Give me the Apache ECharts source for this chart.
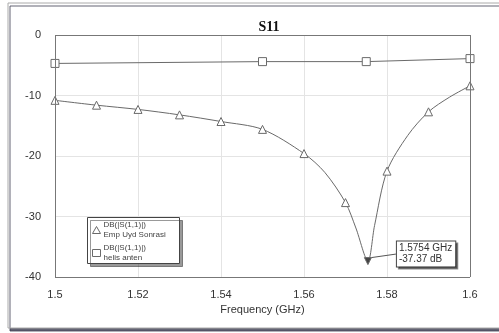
<!DOCTYPE html>
<html>
<head>
<meta charset="utf-8">
<script src="https://cdn.jsdelivr.net/npm/echarts@6/dist/echarts.min.js"></script>
<style>
  html, body { margin: 0; padding: 0; background: #fff; }
  #chart { width: 499px; height: 333px; }
</style>
</head>
<body>
<div id="chart"></div>
<script>
// Emp Uyd Sonrasi (triangles) - freq GHz, dB; marked = drawn with a symbol
const empFreq = [1.5, 1.51, 1.52, 1.53, 1.54, 1.55, 1.56, 1.565, 1.57, 1.5725, 1.5754, 1.577, 1.58, 1.585, 1.59, 1.595, 1.6]
const empDb = [-10.8, -11.6, -12.3, -13.2, -14.3, -15.6, -19.6, -22.7, -27.7, -31.9, -37.37, -31.5, -22.5, -16.6, -12.7, -10.3, -8.4]
const empMarked = [1, 1, 1, 1, 1, 1, 1, 0, 1, 0, 1, 0, 1, 0, 1, 0, 1]
// helis anten (squares)
const helisFreq = [1.5, 1.55, 1.575, 1.6]
const helisDb = [-4.7, -4.4, -4.4, -3.9]
const xTicks = ['1.5', '1.52', '1.54', '1.56', '1.58', '1.6']
const yTicks = [0, -10, -20, -30, -40]

const minIdx = empDb.indexOf(Math.min(...empDb))
const lineColor = '#6a6a6a'

const empData = empFreq.map((f, i) => {
  const item = { value: [f, empDb[i]] }
  if (!empMarked[i]) item.symbol = 'none'
  if (i === minIdx) {
    item.symbolRotate = 180
    item.symbolSize = 7
    item.itemStyle = { color: '#444' }
    item.label = {
      show: true,
      position: 'right',
      formatter: '1.5754 GHz\n-37.37 dB',
      fontSize: 10,
      lineHeight: 11,
      color: '#333',
      fontFamily: 'Liberation Sans',
      backgroundColor: '#fff',
      borderColor: '#444',
      borderWidth: 1,
      padding: [2, 3, 1, 2],
      shadowColor: 'rgba(0,0,0,0.45)',
      shadowOffsetX: 2,
      shadowOffsetY: 2
    }
    item.labelLine = { show: true, lineStyle: { color: '#555', width: 1 } }
  }
  return item
})
const helisData = helisFreq.map((f, i) => [f, helisDb[i]])

const myChart = echarts.init(document.getElementById('chart'), null, { renderer: 'canvas' })
myChart.setOption({
  animation: false,
  backgroundColor: '#fff',
  graphic: [
    {
      // outer frame of the plot window
      type: 'rect',
      z: -10,
      shape: { x: 8, y: 3, width: 520, height: 325 },
      style: {
        fill: '#fff',
        stroke: '#aaa',
        lineWidth: 1,
        shadowColor: 'rgba(60,60,80,0.8)',
        shadowOffsetX: 2,
        shadowOffsetY: 3
      }
    },
    {
      // legend box
      type: 'rect',
      z: 5,
      shape: { x: 87.5, y: 217.5, width: 92, height: 46 },
      style: {
        fill: '#fff',
        stroke: '#444',
        lineWidth: 1,
        shadowColor: 'rgba(0,0,0,0.4)',
        shadowOffsetX: 3,
        shadowOffsetY: 3
      }
    }
  ],
  title: {
    text: 'S11',
    left: 264,
    textAlign: 'center',
    top: 15,
    textStyle: { fontFamily: 'Liberation Serif', fontSize: 14, fontWeight: 'bold', color: '#111' }
  },
  grid: { left: 55, right: 29, top: 35, bottom: 56 },
  legend: {
    left: 92,
    top: 220,
    z: 6,
    orient: 'vertical',
    itemWidth: 8,
    itemHeight: 7,
    itemGap: 3,
    padding: 0,
    textStyle: { fontSize: 8, lineHeight: 10, color: '#444', fontFamily: 'Liberation Sans', padding: [0, 0, 0, -2] },
    formatter: (name) => 'DB(|S(1,1)|)\n' + name,
    data: [
      { name: 'Emp Uyd Sonrasi', icon: 'triangle', itemStyle: { color: '#fff', borderColor: lineColor, borderWidth: 1 } },
      { name: 'helis anten', icon: 'rect', itemStyle: { color: '#fff', borderColor: lineColor, borderWidth: 1 } }
    ]
  },
  xAxis: {
    type: 'value',
    min: 1.5,
    max: 1.6,
    interval: 0.02,
    name: 'Frequency (GHz)',
    nameLocation: 'middle',
    nameGap: 27,
    nameTextStyle: { fontSize: 11, color: '#333', fontFamily: 'Liberation Sans' },
    axisLine: { show: false },
    axisTick: { show: false },
    axisLabel: {
      margin: 12,
      fontSize: 11,
      color: '#333',
      fontFamily: 'Liberation Sans',
      formatter: (v) => xTicks.find(t => Math.abs(parseFloat(t) - v) < 1e-6) || ''
    },
    splitLine: { lineStyle: { color: '#e4e4e4', width: 1 } }
  },
  yAxis: {
    type: 'value',
    min: -40,
    max: 0,
    interval: 10,
    axisLine: { show: false },
    axisTick: { show: false },
    axisLabel: {
      margin: 14,
      fontSize: 11,
      color: '#333',
      fontFamily: 'Liberation Sans',
      formatter: (v) => yTicks.includes(v) ? String(v) : ''
    },
    splitLine: { lineStyle: { color: '#e4e4e4', width: 1 } }
  },
  series: [
    {
      name: 'Emp Uyd Sonrasi',
      type: 'line',
      data: empData,
      smooth: 0.3,
      symbol: 'triangle',
      symbolSize: 8,
      showAllSymbol: true,
      color: lineColor,
      lineStyle: { color: lineColor, width: 1 },
      itemStyle: { color: '#fff', borderColor: lineColor, borderWidth: 1 },
      labelLayout: (params) => params.dataIndex === minIdx ? { dx: 20, dy: -7 } : {},
      z: 3
    },
    {
      name: 'helis anten',
      type: 'line',
      data: helisData,
      symbol: 'rect',
      symbolSize: 8,
      showAllSymbol: true,
      color: lineColor,
      lineStyle: { color: lineColor, width: 1 },
      itemStyle: { color: '#fff', borderColor: lineColor, borderWidth: 1 },
      z: 3,
      markLine: {
        silent: true,
        symbol: 'none',
        label: { show: false },
        lineStyle: { color: '#777', type: 'solid', width: 1 },
        data: [
          [{ coord: [1.5, 0] }, { coord: [1.6, 0] }],
          [{ coord: [1.6, 0] }, { coord: [1.6, -40] }],
          [{ coord: [1.6, -40] }, { coord: [1.5, -40] }],
          [{ coord: [1.5, -40] }, { coord: [1.5, 0] }]
        ]
      }
    }
  ]
})
</script>
</body>
</html>
